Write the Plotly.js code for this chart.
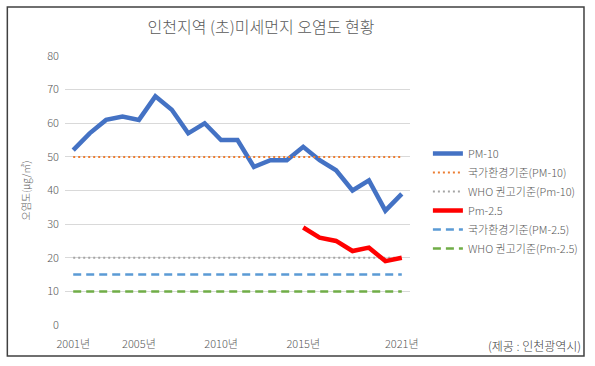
<!DOCTYPE html>
<html>
<head>
<meta charset="utf-8">
<script src="https://cdn.plot.ly/plotly-3.0.1.min.js"></script>
<style>
html,body{margin:0;padding:0;background:#fff;}
#chart{width:595px;height:366px;}
</style>
</head>
<body>
<div id="chart"></div>
<script>
const years = [2001,2002,2003,2004,2005,2006,2007,2008,2009,2010,2011,2012,2013,2014,2015,2016,2017,2018,2019,2020,2021];
const pm10 = [52,57,61,62,61,68,64,57,60,55,55,47,49,49,53,49,46,40,43,34,39];
const pm25Years = [2015,2016,2017,2018,2019,2020,2021];
const pm25 = [29,26,25,22,23,19,20];
const krStd10 = 50;
const whoStd10 = 20;
const krStd25 = 15;
const whoStd25 = 10;
const tickYears = [2001,2005,2010,2015,2021];
const tickLabels = ['2001년','2005년','2010년','2015년','2021년'];
const seriesNames = ['PM-10','국가환경기준(PM-10)','WHO 권고기준(Pm-10)','Pm-2.5','국가환경기준(PM-2.5)','WHO 권고기준(Pm-2.5)'];

const font = '"Noto Sans CJK KR", "Noto Sans", sans-serif';
const flat = v => years.map(() => v);

const traces = [
  {x: years, y: pm10, name: seriesNames[0], mode: 'lines', line: {color: '#4472C4', width: 4.5}},
  {x: years, y: flat(krStd10), name: seriesNames[1], mode: 'lines', line: {color: '#ED7D31', width: 2, dash: '2px,3px'}},
  {x: years, y: flat(whoStd10), name: seriesNames[2], mode: 'lines', line: {color: '#A5A5A5', width: 2, dash: '2px,3px'}},
  {x: pm25Years, y: pm25, name: seriesNames[3], mode: 'lines', line: {color: '#FF0000', width: 4.5}},
  {x: years, y: flat(krStd25), name: seriesNames[4], mode: 'lines', line: {color: '#5B9BD5', width: 2.5, dash: '8px,5px'}},
  {x: years, y: flat(whoStd25), name: seriesNames[5], mode: 'lines', line: {color: '#70AD47', width: 2.5, dash: '8px,5px'}}
];

const layout = {
  width: 595, height: 366,
  margin: {l: 65, r: 183, t: 56, b: 41},
  paper_bgcolor: '#ffffff', plot_bgcolor: '#ffffff',
  font: {family: font, color: '#595959', size: 11, weight: 300},
  title: {text: '인천지역 (초)미세먼지 오염도 현황', font: {family: font, size: 16, color: '#595959', weight: 300},
          xref: 'container', yref: 'container', x: 261/595, xanchor: 'center', y: 1 - 27/366, yanchor: 'middle'},
  xaxis: {range: [2000.5, 2021.5], tickmode: 'array', tickvals: tickYears, ticktext: tickLabels,
          showgrid: false, zeroline: false, showline: false, ticks: '', ticklabelstandoff: 11,
          tickfont: {size: 11, color: '#595959', weight: 300}, fixedrange: true},
  yaxis: {range: [0, 80], dtick: 10, showgrid: true, gridcolor: '#D9D9D9', gridwidth: 1, zeroline: false, showline: false,
          ticks: '', ticklen: 0, ticklabelstandoff: 5, tickfont: {size: 11, color: '#595959', weight: 300},
          title: {text: '오염도(μg/㎥)', font: {size: 10, color: '#595959', weight: 300}, standoff: 14}},
  showlegend: true,
  legend: {x: (430-65)/347, xanchor: 'left', y: (325-139)/269, yanchor: 'top', bgcolor: 'rgba(0,0,0,0)',
           font: {size: 11, color: '#595959', weight: 300}, tracegroupgap: 0, itemwidth: 30},
  shapes: [{type: 'rect', xref: 'paper', yref: 'paper',
            x0: (7-65)/347, x1: (587-65)/347, y0: (325-356)/269, y1: (325-7)/269,
            line: {color: '#404040', width: 1.5}, fillcolor: 'rgba(0,0,0,0)'}],
  annotations: [{text: '(제공 : 인천광역시)', xref: 'paper', yref: 'paper', x: (586-65)/347, xanchor: 'right',
                 y: (325-345)/269, yanchor: 'middle', showarrow: false, font: {size: 12, color: '#404040', weight: 300}}]
};

Plotly.newPlot('chart', traces, layout, {displayModeBar: false, staticPlot: true});
</script>
</body>
</html>
